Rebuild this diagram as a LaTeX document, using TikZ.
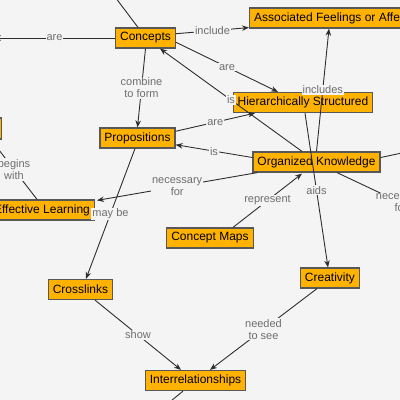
\documentclass[tikz,border=0pt]{standalone}
\usepackage{fontspec}
\setmainfont{Liberation Sans}
\usetikzlibrary{arrows.meta}
\definecolor{bgc}{HTML}{F4F4F4}
\definecolor{nodefill}{HTML}{FFB300}
\definecolor{nodeborder}{HTML}{585858}
\definecolor{linec}{HTML}{2E2E2E}
\definecolor{labc}{HTML}{6E6E6E}
\begin{document}
\begin{tikzpicture}[x=1bp,y=-1bp,
 concept/.style={draw=nodeborder, line width=1.2bp, fill=nodefill, font=\fontsize{12bp}{14bp}\selectfont, text=black, minimum height=20bp, inner xsep=4.5bp, inner ysep=0bp},
 link/.style={draw=linec, line width=0.9bp},
 arr/.style={link, -{Stealth[length=7bp,width=5.5bp]}},
 lab/.style={font=\fontsize{11bp}{12bp}\selectfont, text=labc, fill=bgc, inner sep=1bp, align=center}]
\fill[bgc] (0,0) rectangle (400,400);
\useasboundingbox (0,0) rectangle (400,400);
\clip (0,0) rectangle (400,400);
% nodes
\node[concept] (c) at (145.5,38) {Concepts};
\node[concept, anchor=west] (af) at (249,18) {Associated Feelings or Affect};
\node[concept] (hs) at (303,102.5) {Hierarchically Structured};
\node[concept] (p) at (137.5,138) {Propositions};
\node[concept] (ok) at (316.5,162) {Organized Knowledge};
\node[concept, anchor=east] (el) at (95,210) {Effective Learning};
\node[concept, anchor=east, minimum width=90bp, minimum height=21bp] (ln) at (2,128.5) {};
\node[concept] (cm) at (210,238) {Concept Maps};
\node[concept] (cl) at (80.5,289.5) {Crosslinks};
\node[concept] (cr) at (330,278) {Creativity};
\node[concept] (ir) at (195.5,380.5) {Interrelationships};
% off-canvas ends
\coordinate (offL) at (-6,38);
\coordinate (offT) at (100,-23);
\coordinate (offR) at (430,147);
\coordinate (offLR) at (465,233);
\coordinate (offB) at (160,410);
% connectors
\draw[arr] (c.west) -- node[lab]{are} (offL);
\draw[link] ([xshift=-7.5bp]c.north) -- (offT);
\draw[arr] (c.8) -- node[lab]{include} ([yshift=1bp]af.south west);
\draw[arr] (c.south) -- node[lab]{combine\\to form} (p.north);
\draw[arr] (c.-8) -- node[lab]{are} ([xshift=-25bp]hs.north);
\draw[arr] ([xshift=-14.5bp]ok.north) -- node[lab]{is} ([xshift=14.5bp]c.south);
\draw[arr] (p.10) -- node[lab]{are} ([xshift=-48bp]hs.south);
\draw[arr] (ok.176) -- node[lab]{is} (p.-10);
\draw[arr] (ok.north) -- node[lab]{includes} ([xshift=80bp]af.south west);
\draw[arr] ([xshift=2bp]hs.south) -- node[lab]{aids} ([xshift=-2bp]cr.north);
\draw[arr] ([xshift=5bp]ok.south west) -- node[lab]{necessary\\for} ([xshift=2bp,yshift=-1bp]el.north east);
\draw[arr] ([xshift=23bp]cm.north) -- node[lab]{represent} ([xshift=-14.5bp,yshift=-1bp]ok.south);
\draw[link] (ok.4.5) -- (offR);
\draw[link] ([xshift=20.5bp]ok.south) -- node[lab]{necessary\\for} (offLR);
\draw[arr] ([xshift=-2.5bp]p.south) -- node[lab]{may be} ([xshift=5.5bp]cl.north);
\draw[link] ([xshift=-11bp]ln.south east) -- node[lab]{begins\\with} ([xshift=-58bp]el.north east);
\draw[arr] ([xshift=14.5bp]cl.south) -- node[lab]{show} ([xshift=-14.5bp]ir.north);
\draw[arr] ([xshift=-13bp]cr.south) -- node[lab]{needed\\to see} ([xshift=14.5bp]ir.north);
\draw[link] ([xshift=-12.5bp]ir.south) -- (offB);
\end{tikzpicture}
\end{document}
